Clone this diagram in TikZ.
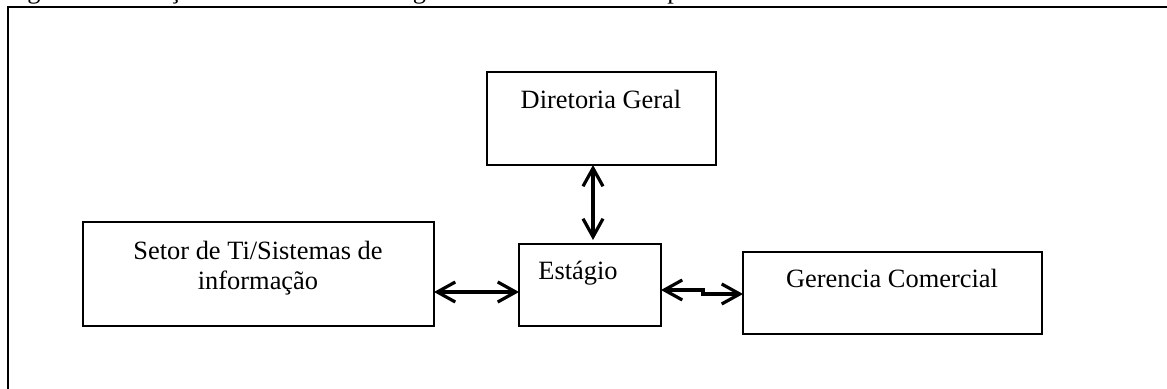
\documentclass[tikz,border=0pt]{standalone}
\usepackage{fontspec}
\setmainfont{Liberation Serif}
\usetikzlibrary{arrows.meta}
\begin{document}
\begin{tikzpicture}[x=0.5pt,y=-0.5pt,
  box/.style={draw, line width=1pt, inner sep=0pt, outer sep=0pt},
  txt/.style={font=\fontsize{13.2}{15}\selectfont, inner sep=0pt, anchor=base},
  arr/.style={line width=1.6pt, {Straight Barb[length=9pt,width=10pt]}-{Straight Barb[length=9pt,width=10pt]}}]
\useasboundingbox (0,0) rectangle (1167,389);
\clip (0,0) rectangle (1167,389);
% caption (cut off at the top)
\node[txt, anchor=base west] (cap) at (5,-1) {Figura 1 – Relação entre a área de estágio e outras áreas da empresa};
% outer frame
\draw[line width=1.1pt] (8,7) rectangle (1200,430);
% boxes
\node[box, minimum width=114.5pt, minimum height=46.5pt] (dir) at (601.5,118.5) {};
\node[box, minimum width=175.5pt, minimum height=52pt] (set) at (258.5,274) {};
\node[box, minimum width=71pt, minimum height=41pt] (est) at (590,285) {};
\node[box, minimum width=149.5pt, minimum height=41pt] (ger) at (892.5,293) {};
% texts
\node[txt] (tdir) at (601,109) {Diretoria Geral};
\node[txt] (tset1) at (258,260) {Setor de Ti/Sistemas de};
\node[txt] (tset2) at (258,290) {informação};
\node[txt] (test) at (578,280) {Estágio};
\node[txt] (tger) at (892,288) {Gerencia Comercial};
% connectors
\coordinate (vx) at (593,0);
\coordinate (ly) at (0,292);
\coordinate (ry1) at (0,290);
\coordinate (ry2) at (0,294);
\coordinate (jog) at (703,0);
\draw[arr, shorten >=2pt] (vx |- dir.south) -- (vx |- est.north);
\draw[arr] (set.east |- ly) -- (est.west |- ly);
\draw[arr] (est.east |- ry1) -- (jog |- ry1) -- (jog |- ry2) -- (ger.west |- ry2);
\end{tikzpicture}
\end{document}
